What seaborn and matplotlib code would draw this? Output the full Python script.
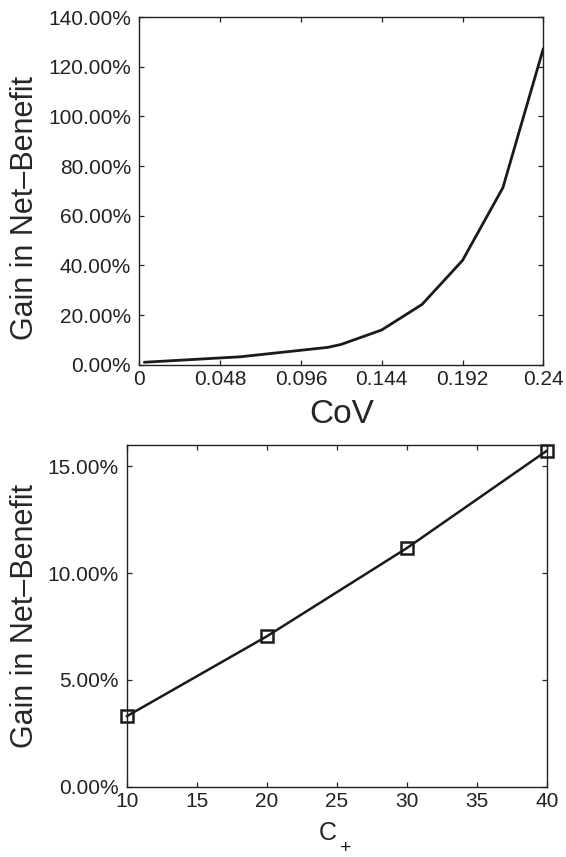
import numpy as np
import pandas as pd
import seaborn as sns
import matplotlib.pyplot as plt
from matplotlib.ticker import FuncFormatter

# top panel: gain vs coefficient of variation (values in percent)
cov = [0.003, 0.06, 0.112, 0.12, 0.144, 0.168, 0.192, 0.216, 0.24]
gain_cov = [1.0, 3.2, 7.0, 8.2, 14.0, 24.3, 42.0, 71.3, 127.3]

# bottom panel: gain vs C+
c_plus = [10, 20, 30, 40]
gain_c = [3.30, 7.04, 11.17, 15.73]

cov_ticks = [0, 0.048, 0.096, 0.144, 0.192, 0.24]
cov_ticklabels = ["0", "0.048", "0.096", "0.144", "0.192", "0.24"]
gain_cov_ticks = [0, 20, 40, 60, 80, 100, 120, 140]
c_ticks = [10, 15, 20, 25, 30, 35, 40]
gain_c_ticks = [0, 5, 10, 15]

LINE = "#1a1a1a"


def style_axes(ax):
    """MATLAB-like box with inward ticks on all four sides."""
    for side in ax.spines.values():
        side.set_visible(True)
        side.set_linewidth(1.0)
        side.set_color("#222222")
    ax.tick_params(direction="in", length=3.5, width=0.9, top=True, right=True,
                   labelsize=15, colors="#222222")
    ax.tick_params(axis="y", pad=6)
    ax.tick_params(axis="x", pad=4)
    ax.yaxis.set_major_formatter(FuncFormatter(lambda v, p: f"{v:.2f}%"))


def main():
    sns.set_style("ticks")
    plt.rcParams["font.family"] = ["Liberation Sans", "DejaVu Sans"]

    fig = plt.figure(figsize=(5.66, 8.57), dpi=100)
    ax1 = fig.add_axes([0.2461, 0.5744, 0.7138, 0.4057])
    ax2 = fig.add_axes([0.2239, 0.0820, 0.7420, 0.3987])

    df_top = pd.DataFrame({"cov": cov, "gain": gain_cov})
    sns.lineplot(data=df_top, x="cov", y="gain", ax=ax1, color=LINE, linewidth=2.0)
    ax1.set_xlim(0, 0.24)
    ax1.set_ylim(0, 140)
    ax1.set_xticks(cov_ticks)
    ax1.set_xticklabels(cov_ticklabels)
    ax1.set_yticks(gain_cov_ticks)
    style_axes(ax1)
    ax1.set_xlabel("CoV", fontsize=24, va="baseline")
    ax1.xaxis.set_label_coords(0.5, -0.168)
    ax1.set_ylabel("Gain in Net\u2013Benefit", fontsize=22, va="center")
    ax1.yaxis.set_label_coords(-0.283, 0.451)

    df_bot = pd.DataFrame({"c": c_plus, "gain": gain_c})
    sns.lineplot(data=df_bot, x="c", y="gain", ax=ax2, color=LINE, linewidth=1.8,
                 marker="s", markersize=8.5, markerfacecolor="none",
                 markeredgecolor=LINE, markeredgewidth=1.8, clip_on=False)
    ax2.set_xlim(10, 40)
    ax2.set_ylim(0, 16)
    ax2.set_xticks(c_ticks)
    ax2.set_yticks(gain_c_ticks)
    style_axes(ax2)
    ax2.set_xlabel("C", fontsize=18, va="baseline")
    ax2.xaxis.set_label_coords(0.478, -0.156)
    ax2.text(0.522, -0.180, "+", transform=ax2.transAxes, fontsize=14,
             ha="center", va="center", color="#222222")
    ax2.set_ylabel("Gain in Net\u2013Benefit", fontsize=22, va="center")
    ax2.yaxis.set_label_coords(-0.242, 0.5)

    fig.savefig("out.png", dpi=100)
    plt.close(fig)


if __name__ == "__main__":
    main()
